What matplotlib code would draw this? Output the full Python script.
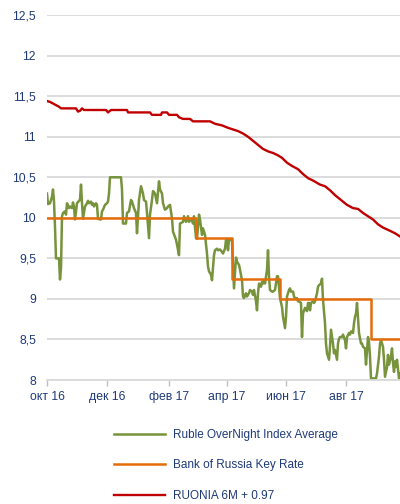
import numpy as np
import matplotlib
matplotlib.use("Agg")
import matplotlib.pyplot as plt

# day offsets from the start of the axis (29.10.2016)
ruonia_days = [0, 3, 6, 9, 12, 14, 29, 31, 33, 35, 37, 59, 61, 64, 80, 81, 103, 105, 114, 115,
               120, 122, 130, 132, 136, 143, 146, 153, 163, 168, 175, 181, 186, 191, 196, 201,
               206, 211, 216, 221, 226, 231, 235, 240, 245, 251, 256, 261, 266, 273, 278, 283,
               288, 293, 300, 306, 311, 316, 321, 326, 331, 336, 343, 348, 353]
ruonia_vals = [11.44, 11.43, 11.41, 11.39, 11.37, 11.35, 11.35, 11.31, 11.32, 11.35, 11.33, 11.33,
               11.30, 11.33, 11.33, 11.30, 11.30, 11.27, 11.27, 11.30, 11.30, 11.27, 11.27, 11.24,
               11.22, 11.22, 11.19, 11.19, 11.19, 11.16, 11.14, 11.11, 11.09, 11.07, 11.04, 11.00,
               10.95, 10.90, 10.85, 10.82, 10.80, 10.77, 10.74, 10.68, 10.64, 10.60, 10.54, 10.49,
               10.46, 10.41, 10.39, 10.34, 10.28, 10.23, 10.16, 10.12, 10.11, 10.06, 10.02, 9.98,
               9.92, 9.88, 9.84, 9.81, 9.77]

key_days = [0, 149, 185, 233, 324, 353]
key_vals = [10.0, 9.75, 9.25, 9.0, 8.5, 8.5]

ruonia_avg_days = [0, 1, 3, 5, 6, 7, 8, 9, 12, 13, 14, 15, 16, 18, 19, 20, 22, 23, 25, 26, 27, 28,
                   29, 30, 32, 33, 34, 35, 36, 38, 40, 41, 42, 44, 45, 46, 47, 49, 50, 51, 53, 54,
                   55, 56, 58, 60, 61, 62, 63, 74, 75, 76, 79, 80, 82, 84, 85, 87, 89, 90, 92, 94,
                   96, 97, 99, 100, 102, 103, 105, 106, 108, 110, 112, 113, 115, 116, 118, 120, 121,
                   123, 125, 126, 129, 130, 132, 133, 136, 137, 139, 141, 142, 144, 146, 147, 149,
                   150, 152, 153, 155, 156, 157, 158, 160, 161, 162, 164, 165, 166, 167, 168, 170,
                   171, 173, 175, 176, 178, 179, 180, 181, 182, 184, 185, 186, 187, 189, 190, 192,
                   193, 195, 196, 197, 199, 200, 202, 203, 205, 206, 207, 209, 210, 211, 212, 214,
                   215, 216, 217, 218, 220, 221, 222, 223, 225, 226, 228, 230, 231, 233, 235, 236,
                   238, 239, 240, 242, 243, 244, 246, 247, 248, 250, 251, 252, 254, 255, 256, 258,
                   260, 261, 262, 263, 264, 266, 267, 268, 270, 271, 272, 274, 275, 276, 278, 279,
                   280, 282, 283, 284, 286, 287, 288, 290, 291, 292, 293, 295, 296, 298, 299, 300,
                   302, 303, 304, 306, 307, 308, 309, 310, 311, 312, 314, 315, 316, 318, 319, 320,
                   321, 322, 323, 324, 329, 330, 332, 333, 334, 336, 337, 338, 340, 341, 342, 344,
                   345, 346, 347, 348, 349, 350, 352, 353]
ruonia_avg_vals = [10.30, 10.17, 10.18, 10.26, 10.35, 10.20, 9.89, 9.50, 9.50, 9.24, 9.38, 10.02,
                   10.06, 10.08, 10.04, 10.18, 10.12, 10.14, 10.12, 10.19, 10.14, 9.98, 10.08, 10.18,
                   10.21, 10.22, 10.41, 10.18, 9.99, 10.14, 10.18, 10.21, 10.18, 10.20, 10.16, 10.18,
                   10.14, 10.18, 10.16, 9.99, 9.98, 9.98, 10.08, 10.10, 10.16, 10.18, 10.20, 10.30,
                   10.50, 10.50, 10.35, 9.93, 9.93, 10.06, 10.08, 10.22, 10.20, 10.12, 10.06, 9.81,
                   10.22, 10.39, 10.30, 10.22, 10.20, 10.06, 9.75, 10.04, 10.22, 10.33, 10.30, 10.18,
                   10.45, 10.35, 10.30, 10.18, 10.10, 10.12, 10.14, 10.16, 9.99, 9.83, 9.73, 9.67,
                   9.54, 9.93, 9.95, 10.02, 9.95, 10.02, 9.95, 9.99, 9.93, 10.02, 9.75, 9.74, 10.04,
                   9.98, 9.79, 9.87, 9.83, 9.79, 9.56, 9.40, 9.34, 9.30, 9.23, 9.38, 9.54, 9.60,
                   9.62, 9.60, 9.61, 9.58, 9.56, 9.62, 9.73, 9.73, 9.60, 9.73, 9.73, 9.71, 9.42,
                   9.13, 9.51, 9.46, 9.42, 9.36, 9.23, 9.03, 9.01, 9.07, 9.03, 9.07, 9.11, 9.09,
                   9.05, 9.11, 8.97, 8.86, 9.07, 9.19, 9.15, 9.21, 9.19, 9.23, 9.19, 9.36, 9.60,
                   9.28, 9.11, 9.09, 9.09, 9.11, 9.28, 9.28, 9.01, 8.90, 8.78, 8.64, 8.78, 9.03,
                   9.11, 9.13, 9.09, 9.09, 9.03, 9.01, 9.01, 8.97, 8.97, 8.95, 8.53, 8.82, 8.89,
                   8.85, 8.95, 8.95, 8.86, 8.95, 8.97, 8.95, 8.97, 9.07, 9.15, 9.17, 9.19, 9.25,
                   8.99, 8.70, 8.45, 8.33, 8.25, 8.41, 8.62, 8.45, 8.33, 8.37, 8.25, 8.45, 8.51,
                   8.53, 8.53, 8.56, 8.49, 8.39, 8.53, 8.58, 8.56, 8.60, 8.58, 8.70, 8.78, 8.82,
                   8.95, 8.76, 8.58, 8.45, 8.45, 8.41, 8.39, 8.19, 8.37, 8.53, 8.47, 8.29, 8.02,
                   8.02, 8.08, 8.29, 8.45, 8.49, 8.41, 8.25, 8.04, 8.16, 8.31, 8.19, 8.29, 8.39,
                   8.21, 8.10, 8.23, 8.16, 8.25, 8.02, 8.08]

tick_days = [0, 60, 122, 180, 239, 299]
tick_labels = ['окт 16', 'дек 16', 'фев 17', 'апр 17', 'июн 17', 'авг 17']
y_ticks = [8, 8.5, 9, 9.5, 10, 10.5, 11, 11.5, 12, 12.5]

navy = '#1F3A78'
plt.rcParams['font.family'] = ['Liberation Sans', 'DejaVu Sans']

fig = plt.figure(figsize=(4.0, 5.04), dpi=100)
ax = fig.add_axes([0.1175, 0.246, 0.8825, 0.724])

for y in y_ticks:
    ax.axhline(y, color='#D9D9D9', lw=1.3, zorder=0)

l1, = ax.plot(ruonia_avg_days, ruonia_avg_vals, color='#77933C', lw=1.8,
              label='Ruble OverNight Index Average', zorder=2)
l2, = ax.plot(key_days, key_vals, color='#E46C0A', lw=1.8, drawstyle='steps-post',
              label='Bank of Russia Key Rate', zorder=3)
l3, = ax.plot(ruonia_days, ruonia_vals, color='#C00000', lw=1.7,
              label='RUONIA 6M + 0.97', zorder=3)

ax.set_xlim(0, 353)
ax.set_ylim(8, 12.5)
ax.set_yticks(y_ticks)
ax.set_yticklabels([('%g' % v).replace('.', ',') for v in y_ticks])
ax.set_xticks(tick_days)
ax.set_xticklabels(tick_labels)
ax.tick_params(axis='y', length=0, pad=8, labelsize=8.8, labelcolor=navy)
ax.tick_params(axis='x', length=4, width=1, color='#BFBFBF', pad=4,
               labelsize=8.8, labelcolor=navy)
for s in ['top', 'right', 'left']:
    ax.spines[s].set_visible(False)
ax.spines['bottom'].set_color('#D9D9D9')
ax.spines['bottom'].set_linewidth(1.3)

fig.legend(handles=[l1, l2, l3], loc='upper left', bbox_to_anchor=(0.272, 0.158),
           frameon=False, fontsize=8.5, labelcolor=navy, handlelength=4.4,
           handletextpad=0.6, labelspacing=1.55, borderaxespad=0)

fig.savefig('out.png', dpi=100)
